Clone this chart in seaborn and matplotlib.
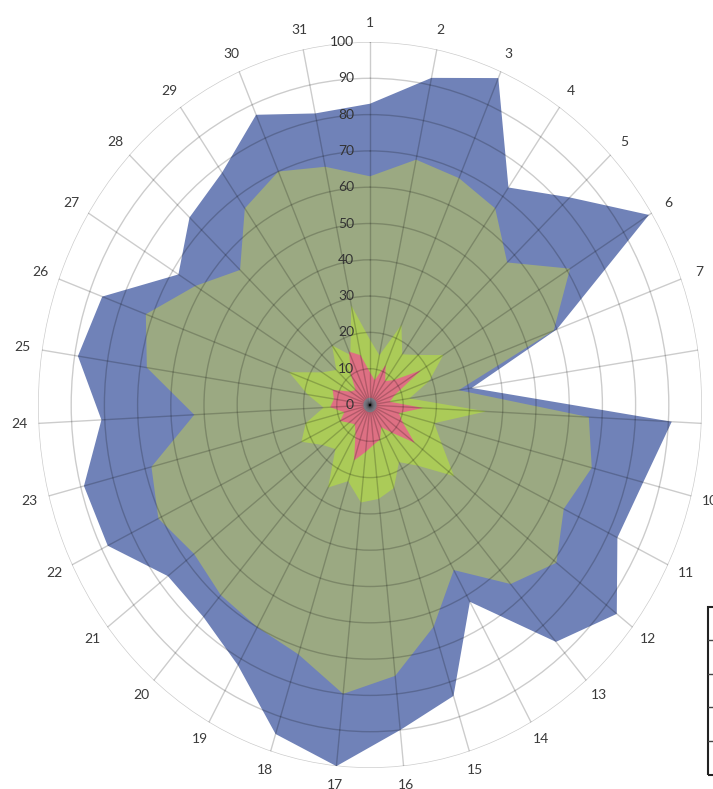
import numpy as np
import matplotlib.pyplot as plt
import seaborn as sns
from matplotlib.transforms import offset_copy
from matplotlib.patches import Rectangle
from matplotlib.lines import Line2D

# ------------------------------------------------------------
# Data (31 categories, scale 0-100)
# ------------------------------------------------------------
categories = [str(i) for i in range(1, 32)]

blue_vals = [83, 92, 98, 73, 83, 99, 60, 31, 91, 85, 83, 94, 86, 62, 84, 90,
             100, 95, 82, 77, 77, 88, 89, 81, 89, 86, 68, 75, 78, 87, 82]
olive_vals = [63, 69, 68, 66, 57, 71, 59, 27, 66, 69, 65, 71, 65, 52, 64, 75,
              80, 72, 70, 69, 67, 71, 68, 53, 68, 72, 62, 54, 66, 70, 67]
green_vals = [18, 14, 24, 17, 20, 26, 19, 12, 35, 20, 24, 32, 22, 18, 24, 26,
              27, 22, 26, 16, 18, 23, 20, 14, 19, 26, 17, 14, 20, 15, 28]
pink_vals = [9, 7, 12, 8, 10, 18, 8, 6, 16, 9, 11, 17, 10, 7, 10, 11,
             13, 16, 9, 7, 8, 10, 8, 12, 11, 12, 7, 6, 10, 16, 14]
gray_vals = [2, 2, 2, 2, 2, 2, 2, 2, 2, 2, 2, 2, 2, 2, 2, 2,
             2, 2, 2, 2, 2, 2, 2, 2, 2, 2, 2, 2, 2, 2, 2]

radial_ticks = [0, 10, 20, 30, 40, 50, 60, 70, 80, 90, 100]

COLORS = ["#7082B8", "#9BA982", "#ABCB58", "#DE7083", "#9A9AA6"]

# ------------------------------------------------------------
# Figure
# ------------------------------------------------------------
sns.set_theme(style="white")
plt.rcParams['font.family'] = ['Lato', 'DejaVu Sans']

W, H = 713, 789
fig = plt.figure(figsize=(W / 100, H / 100), dpi=100)
ax = fig.add_axes([38 / W, (H - 768) / H, 664 / W, (768 - 42) / H],
                  projection='polar')
ax.set_aspect('auto')
ax.set_theta_zero_location('N')
ax.set_theta_direction(-1)

n = len(categories)
theta = np.linspace(0, 2 * np.pi, n, endpoint=False)

def closed(vals):
    return np.append(theta, theta[0]), np.append(vals, vals[0])

for vals, col, z in zip([blue_vals, olive_vals, green_vals, pink_vals, gray_vals],
                        COLORS, [1, 1.1, 1.2, 1.3, 1.4]):
    t, r = closed(vals)
    ax.fill(t, r, color=col, lw=0, zorder=z)

ax.set_ylim(0, 100)
ax.set_xticks(theta)
ax.set_xticklabels(categories, fontsize=10, color="#3a3a3a")
ax.set_yticks(radial_ticks)
ax.set_yticklabels([])
ax.tick_params(axis='x', pad=1)
ax.set_axisbelow(False)
ax.grid(True, color="#000000", alpha=0.2, lw=1.0)
ax.spines['polar'].set_visible(False)
ax.set_facecolor("white")

# radial value labels just left of the top spoke
lab_tr = offset_copy(ax.transData, fig=fig, x=-16, y=0, units='dots')
for v in radial_ticks:
    ax.text(0, v, str(v), transform=lab_tr, ha='right', va='center',
            fontsize=10, color="#333333", zorder=5)

# partially visible data table at the lower-right edge
fig.add_artist(Rectangle((708 / W, 1 - 775 / H), 20 / W, (775 - 607) / H,
                         transform=fig.transFigure, fill=False,
                         edgecolor="#222222", lw=1.5))
for yy in [640, 674, 707, 741]:
    fig.add_artist(Line2D([708 / W, 1], [1 - yy / H, 1 - yy / H],
                          transform=fig.transFigure, color="#444444", lw=1))

fig.savefig("out.png", dpi=100, facecolor="white")
